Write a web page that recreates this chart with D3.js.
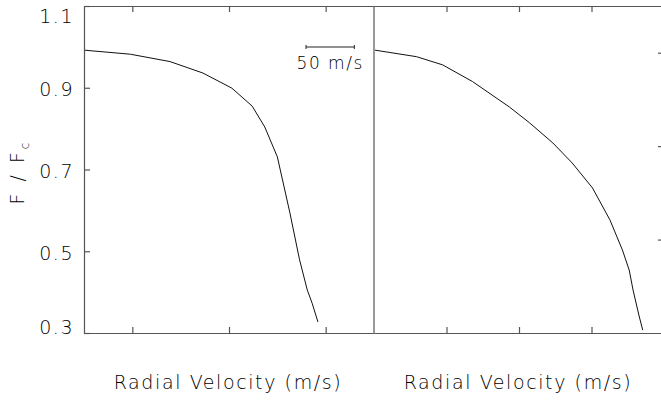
<!DOCTYPE html>
<html>
<head>
<meta charset="utf-8">
<script src="https://cdn.jsdelivr.net/npm/d3@7"></script>
<style>
  html, body { margin: 0; padding: 0; background: #fff; }
  svg { display: block; }
  text { font-family: "DejaVu Sans", sans-serif; font-weight: 300; fill: #000; }
</style>
</head>
<body>
<svg id="chart" width="661" height="400"></svg>
<script>
// Line profiles of F / Fc against radial velocity, two panels
const leftVelocity = [-150, -102, -61, -27, 3, 24, 37, 50, 63, 73, 81, 86, 92];
const leftFlux     = [0.992, 0.982, 0.964, 0.936, 0.899, 0.855, 0.804, 0.731, 0.594, 0.479, 0.405, 0.373, 0.327];

const rightVelocity = [-149, -106, -79, -48, -10, 11, 35, 55, 76, 94, 107, 114, 118, 124, 128];
const rightFlux     = [0.992, 0.976, 0.956, 0.915, 0.853, 0.814, 0.765, 0.716, 0.655, 0.577, 0.503, 0.454, 0.405, 0.344, 0.307];

const fluxTicks = [0.3, 0.5, 0.7, 0.9, 1.1];
const leftVelTicks = [-100, 0, 100];
const rightVelTicks = [-75, 0, 75];
const rightAxisTicks = [1, 2, 3];
const xTitle = "Radial Velocity (m/s)";
const scaleBarLabel = "50 m/s";
const scaleBarVel = 50;

const svg = d3.select("#chart");
const plotTop = 6, plotBottom = 333;
const panels = [
  { x0: 84, x1: 374, vel: leftVelocity, flux: leftFlux, ticks: leftVelTicks },
  { x0: 374, x1: 664, vel: rightVelocity, flux: rightFlux, ticks: rightVelTicks }
];

const y = d3.scaleLinear().domain([0.3, 1.1]).range([plotBottom, plotTop]);
const yRight = d3.scaleLinear().domain([0, 3.5]).range([plotBottom, plotTop]);

const axisColor = "#555";

panels.forEach((p, i) => {
  p.x = d3.scaleLinear().domain([-150, 150]).range([p.x0, p.x1]);

  const gTop = svg.append("g").attr("transform", `translate(0,${plotTop})`)
    .call(d3.axisTop(p.x).tickValues(p.ticks).tickSize(-6).tickSizeOuter(0).tickFormat(""));
  const gBot = svg.append("g").attr("transform", `translate(0,${plotBottom})`)
    .call(d3.axisBottom(p.x).tickValues(p.ticks).tickSize(-6).tickSizeOuter(0).tickFormat(""));
  [gTop, gBot].forEach(g => g.selectAll("path, line").attr("stroke", axisColor).attr("stroke-width", 1.2));

  const line = d3.line().x(d => p.x(d[0])).y(d => y(d[1]));
  svg.append("path")
    .datum(p.vel.map((v, k) => [v, p.flux[k]]))
    .attr("d", line)
    .attr("fill", "none")
    .attr("stroke", "#111")
    .attr("stroke-width", 1);

  svg.append("text")
    .attr("x", (p.x0 + p.x1) / 2 - 1)
    .attr("y", 389)
    .attr("text-anchor", "middle")
    .attr("font-size", 19)
    .attr("letter-spacing", 1.6)
    .text(xTitle);
});

// left flux axis with labels
const gLeft = svg.append("g").attr("transform", `translate(84,0)`)
  .call(d3.axisLeft(y).tickValues(fluxTicks).tickSize(-6).tickSizeOuter(0).tickPadding(10).tickFormat(d3.format(".1f")));
gLeft.selectAll("path, line").attr("stroke", axisColor).attr("stroke-width", 1.2);
gLeft.selectAll("text")
  .attr("font-size", 19)
  .attr("letter-spacing", 1.5)
  .attr("fill", "#000")
  .style("font-family", "DejaVu Sans, sans-serif")
  .style("font-weight", 300)
  .attr("dy", d => d === 1.1 ? "0.85em" : d === 0.3 ? "0.0em" : "0.42em");

// panel divider
svg.append("line")
  .attr("x1", 374).attr("x2", 374).attr("y1", plotTop).attr("y2", plotBottom)
  .attr("stroke", axisColor).attr("stroke-width", 1.2);

// right-hand axis of the second panel
const gRight = svg.append("g").attr("transform", `translate(664,0)`)
  .call(d3.axisRight(yRight).tickValues(rightAxisTicks).tickSize(-6).tickSizeOuter(0).tickFormat(""));
gRight.selectAll("path, line").attr("stroke", axisColor).attr("stroke-width", 1.2);

// y title: F / Fc
const yt = svg.append("text")
  .attr("transform", "translate(24,172) rotate(-90)")
  .attr("text-anchor", "middle")
  .attr("font-size", 19)
  .attr("letter-spacing", 3);
yt.append("tspan").text("F / F");
yt.append("tspan").attr("font-size", 12).attr("dy", 5).text("c");

// velocity scale bar
const sx = panels[0].x;
const barX0 = 306, barY = 47;
const barX1 = barX0 + (sx(scaleBarVel) - sx(0));
const bar = svg.append("g").attr("stroke", "#222").attr("stroke-width", 1);
bar.append("line").attr("x1", barX0).attr("x2", barX1).attr("y1", barY).attr("y2", barY);
bar.append("line").attr("x1", barX0).attr("x2", barX0).attr("y1", barY - 2).attr("y2", barY + 2);
bar.append("line").attr("x1", barX1).attr("x2", barX1).attr("y1", barY - 2).attr("y2", barY + 2);
svg.append("text")
  .attr("x", (barX0 + barX1) / 2)
  .attr("y", 69)
  .attr("text-anchor", "middle")
  .attr("font-size", 17)
  .attr("letter-spacing", 1.5)
  .text(scaleBarLabel);
</script>
</body>
</html>
